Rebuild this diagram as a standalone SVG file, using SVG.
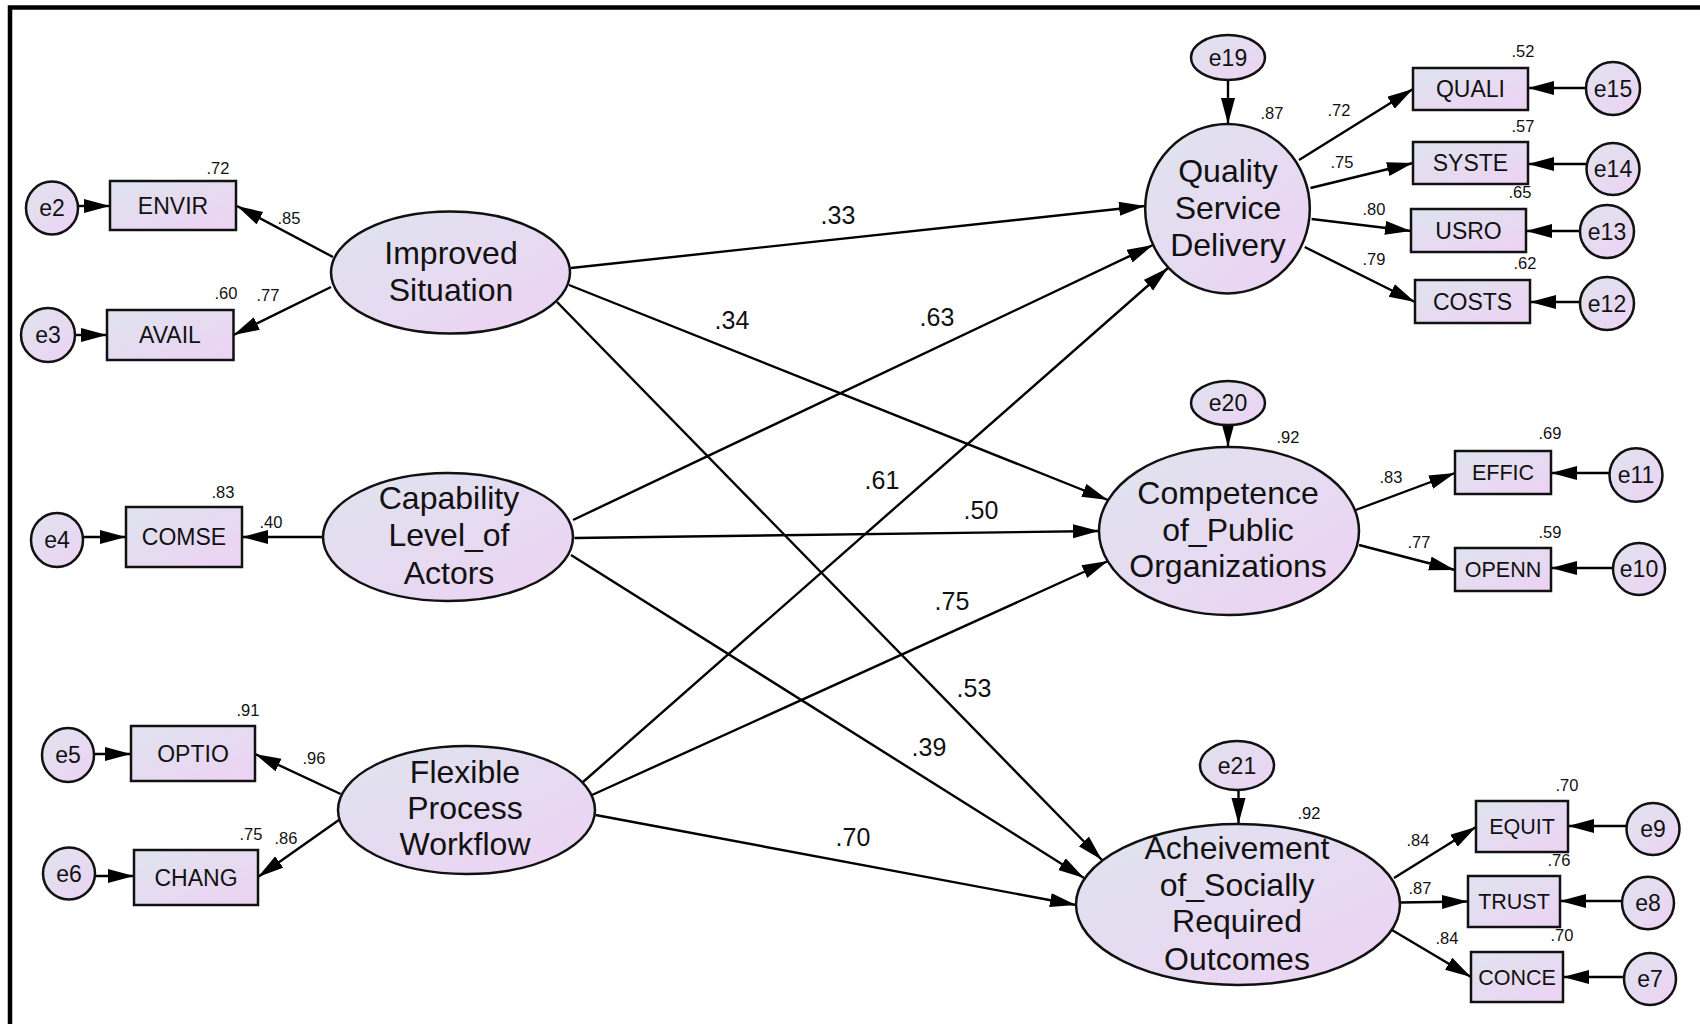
<svg xmlns="http://www.w3.org/2000/svg" width="1700" height="1024" viewBox="0 0 1700 1024">
  <defs>
    <linearGradient id="fillGrad" x1="0" y1="0" x2="1" y2="1">
      <stop offset="0" stop-color="#dfe4ee"/>
      <stop offset="1" stop-color="#edd2f4"/>
    </linearGradient>
    <marker id="ah" markerUnits="userSpaceOnUse" markerWidth="28" markerHeight="16" refX="26" refY="7" orient="auto">
      <path d="M0,0 L26,7 L0,14 z" fill="#000"/>
    </marker>
    <style>
      .shape { fill: url(#fillGrad); stroke: #111; stroke-width: 2.5; }
      .latent { font-family: "Liberation Sans", Arial, sans-serif; font-size: 32px; fill: #111; text-anchor: middle; }
      .obs { font-family: "Liberation Sans", Arial, sans-serif; font-size: 23px; fill: #111; text-anchor: middle; }
      .obs2 { font-family: "Liberation Sans", Arial, sans-serif; font-size: 21.5px; fill: #111; text-anchor: middle; }
      .err { font-family: "Liberation Sans", Arial, sans-serif; font-size: 23px; fill: #111; text-anchor: middle; }
      .sm { font-family: "Liberation Sans", Arial, sans-serif; font-size: 16.5px; fill: #111; text-anchor: middle; }
      .coef { font-family: "Liberation Sans", Arial, sans-serif; font-size: 25px; fill: #111; text-anchor: middle; }
      .conn line { stroke: #000; stroke-width: 2.4; marker-end: url(#ah); }
    </style>
  </defs>

  <rect width="1700" height="1024" fill="#fff"/>
  <!-- frame (left and top edges) -->
  <path d="M10,1024 L10,7.5 L1700,7.5" fill="none" stroke="#000" stroke-width="4.5"/>

  <!-- connectors -->
  <g id="connectors" class="conn">
    <!-- structural paths -->
    <line x1="571" y1="268" x2="1145" y2="206"/>
    <line x1="569" y1="285" x2="1108" y2="500"/>
    <line x1="557" y1="302" x2="1102" y2="860"/>
    <line x1="573" y1="520" x2="1153" y2="245"/>
    <line x1="574.5" y1="538" x2="1099" y2="531"/>
    <line x1="571" y1="555" x2="1084" y2="878"/>
    <line x1="583" y1="782" x2="1168" y2="268"/>
    <line x1="592" y1="795" x2="1108" y2="561"/>
    <line x1="595.6" y1="815" x2="1076" y2="905"/>
    <!-- loadings -->
    <line x1="333" y1="257" x2="237" y2="206"/>
    <line x1="331" y1="287" x2="233.5" y2="335"/>
    <line x1="322.6" y1="537" x2="242" y2="537"/>
    <line x1="340.6" y1="794" x2="255" y2="754"/>
    <line x1="341.7" y1="818" x2="258" y2="877"/>
    <line x1="1299" y1="160" x2="1413" y2="89"/>
    <line x1="1310.5" y1="188" x2="1413" y2="163"/>
    <line x1="1311.6" y1="219" x2="1411" y2="231"/>
    <line x1="1304.7" y1="247" x2="1415" y2="302"/>
    <line x1="1355.6" y1="510" x2="1455" y2="473"/>
    <line x1="1359" y1="545" x2="1455" y2="570"/>
    <line x1="1394" y1="878" x2="1476" y2="827"/>
    <line x1="1399.5" y1="902.5" x2="1468" y2="901.5"/>
    <line x1="1392" y1="930" x2="1471" y2="977"/>
    <!-- error terms -->
    <line x1="78" y1="206" x2="110" y2="206"/>
    <line x1="75" y1="335" x2="107" y2="335"/>
    <line x1="83" y1="537" x2="126" y2="537"/>
    <line x1="94" y1="754" x2="131" y2="754"/>
    <line x1="95" y1="876" x2="134" y2="876"/>
    <line x1="1586" y1="88" x2="1528" y2="88"/>
    <line x1="1587" y1="164" x2="1528" y2="164"/>
    <line x1="1580" y1="231" x2="1526" y2="231"/>
    <line x1="1580" y1="302" x2="1530" y2="302"/>
    <line x1="1610" y1="473" x2="1551" y2="473"/>
    <line x1="1613" y1="568" x2="1551" y2="568"/>
    <line x1="1626" y1="826" x2="1568" y2="826"/>
    <line x1="1622" y1="901" x2="1560" y2="901"/>
    <line x1="1624" y1="977" x2="1563" y2="977"/>
    <line x1="1228" y1="80" x2="1228" y2="124"/>
    <line x1="1228" y1="425" x2="1228" y2="447"/>
    <line x1="1238.5" y1="790" x2="1238.5" y2="824"/>
  </g>

  <!-- path coefficients -->
  <g id="coefficients">
    <text class="coef" x="838" y="215" dy="0.35em">.33</text>
    <text class="coef" x="732" y="320" dy="0.35em">.34</text>
    <text class="coef" x="937" y="317" dy="0.35em">.63</text>
    <text class="coef" x="882" y="480" dy="0.35em">.61</text>
    <text class="coef" x="981" y="510" dy="0.35em">.50</text>
    <text class="coef" x="952" y="601" dy="0.35em">.75</text>
    <text class="coef" x="974" y="688" dy="0.35em">.53</text>
    <text class="coef" x="929" y="747" dy="0.35em">.39</text>
    <text class="coef" x="853" y="837" dy="0.35em">.70</text>
    <text class="sm" x="289" y="218" dy="0.35em">.85</text>
    <text class="sm" x="268" y="295" dy="0.35em">.77</text>
    <text class="sm" x="271" y="522" dy="0.35em">.40</text>
    <text class="sm" x="314" y="758" dy="0.35em">.96</text>
    <text class="sm" x="286" y="838" dy="0.35em">.86</text>
    <text class="sm" x="1339" y="110" dy="0.35em">.72</text>
    <text class="sm" x="1342" y="162" dy="0.35em">.75</text>
    <text class="sm" x="1374" y="209" dy="0.35em">.80</text>
    <text class="sm" x="1374" y="259" dy="0.35em">.79</text>
    <text class="sm" x="1391" y="477" dy="0.35em">.83</text>
    <text class="sm" x="1419" y="542" dy="0.35em">.77</text>
    <text class="sm" x="1418" y="840" dy="0.35em">.84</text>
    <text class="sm" x="1420" y="888" dy="0.35em">.87</text>
    <text class="sm" x="1447" y="938" dy="0.35em">.84</text>
  </g>

  <!-- latent variables -->
  <g id="improved-situation">
    <ellipse class="shape" cx="450.5" cy="272.5" rx="119.5" ry="61"/>
    <text class="latent" x="451" y="253" dy="0.35em">Improved</text>
    <text class="latent" x="451" y="290" dy="0.35em">Situation</text>
  </g>
  <g id="capability-level">
    <ellipse class="shape" cx="448" cy="537" rx="125" ry="64"/>
    <text class="latent" x="449" y="498" dy="0.35em">Capability</text>
    <text class="latent" x="449" y="535" dy="0.35em">Level_of</text>
    <text class="latent" x="449" y="573" dy="0.35em">Actors</text>
  </g>
  <g id="flexible-process">
    <ellipse class="shape" cx="466.5" cy="810" rx="128.5" ry="64"/>
    <text class="latent" x="465" y="772" dy="0.35em">Flexible</text>
    <text class="latent" x="465" y="808" dy="0.35em">Process</text>
    <text class="latent" x="465" y="844" dy="0.35em">Workflow</text>
  </g>
  <g id="quality-service">
    <ellipse class="shape" cx="1227.5" cy="208.7" rx="82.3" ry="84.7"/>
    <text class="latent" x="1228" y="171" dy="0.35em">Quality</text>
    <text class="latent" x="1228" y="208" dy="0.35em">Service</text>
    <text class="latent" x="1228" y="245" dy="0.35em">Delivery</text>
    <text class="sm" x="1272" y="113" dy="0.35em">.87</text>
  </g>
  <g id="competence-public">
    <ellipse class="shape" cx="1229" cy="531" rx="130" ry="84"/>
    <text class="latent" x="1228" y="493" dy="0.35em">Competence</text>
    <text class="latent" x="1228" y="530" dy="0.35em">of_Public</text>
    <text class="latent" x="1228" y="566" dy="0.35em">Organizations</text>
    <text class="sm" x="1288" y="437" dy="0.35em">.92</text>
  </g>
  <g id="achievement-outcomes">
    <ellipse class="shape" cx="1238" cy="904.5" rx="162" ry="80.5"/>
    <text class="latent" x="1237" y="848" dy="0.35em">Acheivement</text>
    <text class="latent" x="1237" y="885" dy="0.35em">of_Socially</text>
    <text class="latent" x="1237" y="921" dy="0.35em">Required</text>
    <text class="latent" x="1237" y="959" dy="0.35em">Outcomes</text>
    <text class="sm" x="1309" y="813" dy="0.35em">.92</text>
  </g>

  <!-- observed variables -->
  <g id="envir">
    <rect class="shape" x="110" y="181" width="126" height="49"/>
    <text class="obs" x="173" y="205.5" dy="0.35em">ENVIR</text>
    <text class="sm" x="218" y="168" dy="0.35em">.72</text>
  </g>
  <g id="avail">
    <rect class="shape" x="107" y="310" width="126.5" height="50"/>
    <text class="obs" x="170" y="335" dy="0.35em">AVAIL</text>
    <text class="sm" x="226" y="293" dy="0.35em">.60</text>
  </g>
  <g id="comse">
    <rect class="shape" x="126" y="507" width="116" height="60"/>
    <text class="obs" x="184" y="537" dy="0.35em">COMSE</text>
    <text class="sm" x="223" y="492" dy="0.35em">.83</text>
  </g>
  <g id="optio">
    <rect class="shape" x="131" y="726" width="124" height="55"/>
    <text class="obs" x="193" y="753.5" dy="0.35em">OPTIO</text>
    <text class="sm" x="248" y="710" dy="0.35em">.91</text>
  </g>
  <g id="chang">
    <rect class="shape" x="134" y="850" width="124" height="55"/>
    <text class="obs" x="196" y="877.5" dy="0.35em">CHANG</text>
    <text class="sm" x="251" y="834" dy="0.35em">.75</text>
  </g>
  <g id="quali">
    <rect class="shape" x="1413" y="68" width="115" height="42"/>
    <text class="obs" x="1470.5" y="89" dy="0.35em">QUALI</text>
    <text class="sm" x="1523" y="51" dy="0.35em">.52</text>
  </g>
  <g id="syste">
    <rect class="shape" x="1413" y="142" width="115" height="42"/>
    <text class="obs" x="1470.5" y="163" dy="0.35em">SYSTE</text>
    <text class="sm" x="1523" y="126" dy="0.35em">.57</text>
  </g>
  <g id="usro">
    <rect class="shape" x="1411" y="209" width="115" height="43"/>
    <text class="obs" x="1468.5" y="230.5" dy="0.35em">USRO</text>
    <text class="sm" x="1520" y="192" dy="0.35em">.65</text>
  </g>
  <g id="costs">
    <rect class="shape" x="1415" y="280" width="115" height="43"/>
    <text class="obs" x="1472.5" y="301.5" dy="0.35em">COSTS</text>
    <text class="sm" x="1525" y="263" dy="0.35em">.62</text>
  </g>
  <g id="effic">
    <rect class="shape" x="1455" y="451" width="96" height="43"/>
    <text class="obs2" x="1503" y="472.5" dy="0.35em">EFFIC</text>
    <text class="sm" x="1550" y="433" dy="0.35em">.69</text>
  </g>
  <g id="openn">
    <rect class="shape" x="1455" y="548" width="96" height="43"/>
    <text class="obs2" x="1503" y="569.5" dy="0.35em">OPENN</text>
    <text class="sm" x="1550" y="532" dy="0.35em">.59</text>
  </g>
  <g id="equit">
    <rect class="shape" x="1476" y="801" width="92" height="51"/>
    <text class="obs2" x="1522" y="826.5" dy="0.35em">EQUIT</text>
    <text class="sm" x="1567" y="785" dy="0.35em">.70</text>
  </g>
  <g id="trust">
    <rect class="shape" x="1468" y="876" width="92" height="51"/>
    <text class="obs2" x="1514" y="901.5" dy="0.35em">TRUST</text>
    <text class="sm" x="1559" y="860" dy="0.35em">.76</text>
  </g>
  <g id="conce">
    <rect class="shape" x="1471" y="952" width="92" height="50"/>
    <text class="obs2" x="1517" y="977" dy="0.35em">CONCE</text>
    <text class="sm" x="1562" y="935" dy="0.35em">.70</text>
  </g>

  <!-- error terms -->
  <g id="e2"><ellipse class="shape" cx="52" cy="208" rx="26" ry="26.5"/><text class="err" x="52" y="208" dy="0.35em">e2</text></g>
  <g id="e3"><ellipse class="shape" cx="48" cy="335" rx="27" ry="27"/><text class="err" x="48" y="335" dy="0.35em">e3</text></g>
  <g id="e4"><ellipse class="shape" cx="57" cy="540" rx="26" ry="27"/><text class="err" x="57" y="540" dy="0.35em">e4</text></g>
  <g id="e5"><ellipse class="shape" cx="68" cy="755" rx="26" ry="27"/><text class="err" x="68" y="755" dy="0.35em">e5</text></g>
  <g id="e6"><ellipse class="shape" cx="69" cy="873.5" rx="26" ry="26"/><text class="err" x="69" y="873.5" dy="0.35em">e6</text></g>
  <g id="e15"><ellipse class="shape" cx="1613" cy="88.5" rx="27" ry="26.5"/><text class="err" x="1613" y="88.5" dy="0.35em">e15</text></g>
  <g id="e14"><ellipse class="shape" cx="1613" cy="169" rx="26.5" ry="26"/><text class="err" x="1613" y="169" dy="0.35em">e14</text></g>
  <g id="e13"><ellipse class="shape" cx="1607" cy="231.5" rx="27" ry="26.5"/><text class="err" x="1607" y="231.5" dy="0.35em">e13</text></g>
  <g id="e12"><ellipse class="shape" cx="1607" cy="303.5" rx="27" ry="26.5"/><text class="err" x="1607" y="303.5" dy="0.35em">e12</text></g>
  <g id="e11"><ellipse class="shape" cx="1636" cy="475" rx="26.5" ry="26.7"/><text class="err" x="1636" y="475" dy="0.35em">e11</text></g>
  <g id="e10"><ellipse class="shape" cx="1639" cy="569" rx="26" ry="26"/><text class="err" x="1639" y="569" dy="0.35em">e10</text></g>
  <g id="e9"><ellipse class="shape" cx="1653" cy="829" rx="26.5" ry="26"/><text class="err" x="1653" y="829" dy="0.35em">e9</text></g>
  <g id="e8"><ellipse class="shape" cx="1648" cy="903" rx="26" ry="26.3"/><text class="err" x="1648" y="903" dy="0.35em">e8</text></g>
  <g id="e7"><ellipse class="shape" cx="1650" cy="979" rx="26" ry="26"/><text class="err" x="1650" y="979" dy="0.35em">e7</text></g>
  <g id="e19"><ellipse class="shape" cx="1228" cy="57.5" rx="37" ry="22.5"/><text class="err" x="1228" y="57.5" dy="0.35em">e19</text></g>
  <g id="e20"><ellipse class="shape" cx="1228" cy="403" rx="37" ry="22"/><text class="err" x="1228" y="403" dy="0.35em">e20</text></g>
  <g id="e21"><ellipse class="shape" cx="1237" cy="765.5" rx="37" ry="24.5"/><text class="err" x="1237" y="765.5" dy="0.35em">e21</text></g>
</svg>
